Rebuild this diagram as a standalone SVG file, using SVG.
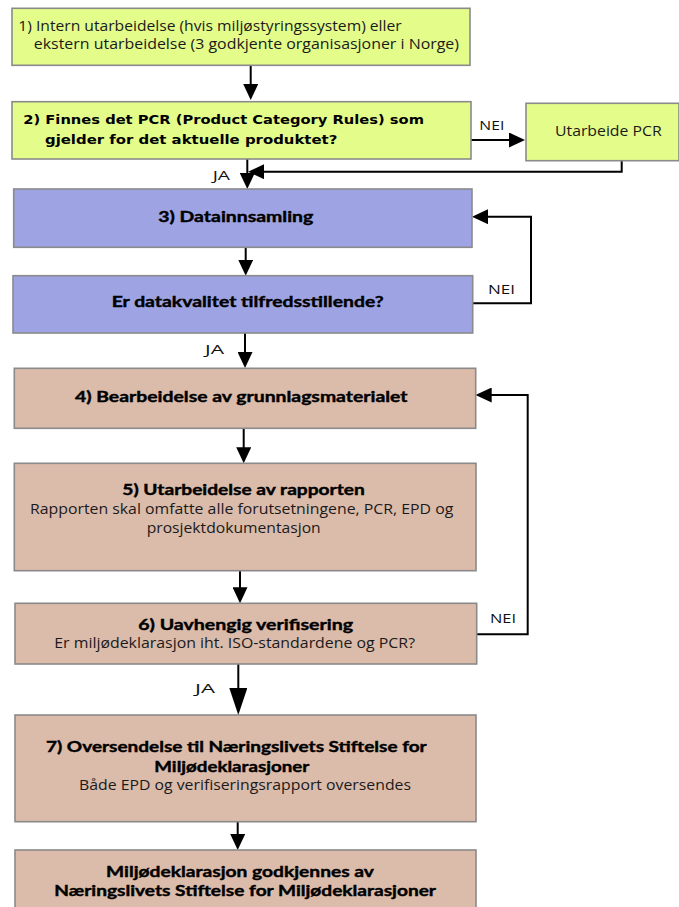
<svg xmlns="http://www.w3.org/2000/svg" width="679" height="907" viewBox="0 0 679 907">
  <defs>
    <style>
      .box { stroke: #8a8a8a; stroke-width: 1.6; }
      .green { fill: #e4fc8a; }
      .blue { fill: #9ea3e3; }
      .tan { fill: #dbbbaa; }
      .t { font-family: "Open Sans", "Liberation Sans", sans-serif; font-size: 14px; fill: #1a1a1a; }
      .b { font-family: Lato, "Liberation Sans", sans-serif; font-weight: bold; font-size: 15px; fill: #000; stroke: #000; stroke-width: 0.4; }
      .bv { font-family: "DejaVu Sans", Verdana, sans-serif; font-weight: bold; font-size: 13px; fill: #000; }
      .lbl { font-family: "Open Sans", "Liberation Sans", sans-serif; font-size: 13px; fill: #111; }
      .conn { fill: none; stroke: #000; stroke-width: 2; }
    </style>
    <marker id="arrow" markerUnits="userSpaceOnUse" markerWidth="16" markerHeight="15" refX="12" refY="7.5" orient="auto">
      <path d="M0,0 L16,7.5 L0,15 z" fill="#000"/>
    </marker>
    <marker id="arrowBig" markerUnits="userSpaceOnUse" markerWidth="27" markerHeight="18" refX="23" refY="9" orient="auto">
      <path d="M0,0 L27,9 L0,18 z" fill="#000"/>
    </marker>
  </defs>

  <rect width="679" height="907" fill="#fff"/>

  <!-- connectors -->
  <g id="connectors">
    <path class="conn" d="M250.7,65 V96" marker-end="url(#arrow)"/>
    <path class="conn" d="M471,140 H521" marker-end="url(#arrow)"/>
    <path class="conn" d="M621.7,160.7 V171.7 H252" marker-end="url(#arrow)"/>
    <path class="conn" d="M247.3,159 V185" marker-end="url(#arrow)"/>
    <path class="conn" d="M245.7,247.3 V271.7" marker-end="url(#arrow)"/>
    <path class="conn" d="M472.7,303.3 H531 V216.7 H476" marker-end="url(#arrow)"/>
    <path class="conn" d="M245,333 V364" marker-end="url(#arrow)"/>
    <path class="conn" d="M243.7,428.3 V459.3" marker-end="url(#arrow)"/>
    <path class="conn" d="M240,570.7 V599.3" marker-end="url(#arrow)"/>
    <path class="conn" d="M476.7,634.3 H527.7 V395 H479.7" marker-end="url(#arrow)"/>
    <path class="conn" d="M238.3,664 V711" marker-end="url(#arrowBig)"/>
    <path class="conn" d="M237.7,821.7 V846" marker-end="url(#arrow)"/>

    <text class="lbl" x="479.3" y="130" textLength="25" lengthAdjust="spacingAndGlyphs">NEI</text>
    <text class="lbl" x="212.7" y="180" textLength="17.3" lengthAdjust="spacingAndGlyphs">JA</text>
    <text class="lbl" x="488" y="294" textLength="27" lengthAdjust="spacingAndGlyphs">NEI</text>
    <text class="lbl" x="205" y="354.3" textLength="19" lengthAdjust="spacingAndGlyphs">JA</text>
    <text class="lbl" x="490" y="623" textLength="26" lengthAdjust="spacingAndGlyphs">NEI</text>
    <text class="lbl" x="195" y="692.7" textLength="20" lengthAdjust="spacingAndGlyphs">JA</text>
  </g>

  <g id="step1">
    <rect class="box green" x="12" y="8.3" width="458" height="57"/>
    <text class="t" x="18.3" y="30.7" textLength="383.4" lengthAdjust="spacingAndGlyphs">1) Intern utarbeidelse (hvis miljøstyringssystem) eller</text>
    <text class="t" x="33.8" y="49.3" textLength="425.2" lengthAdjust="spacingAndGlyphs">ekstern utarbeidelse (3 godkjente organisasjoner i Norge)</text>
  </g>

  <g id="step2">
    <rect class="box green" x="12" y="101.7" width="459" height="57.3"/>
    <text class="bv" x="23.3" y="124" textLength="400.7" lengthAdjust="spacingAndGlyphs">2) Finnes det PCR (Product Category Rules) som</text>
    <text class="bv" x="45" y="144" textLength="292.3" lengthAdjust="spacingAndGlyphs">gjelder for det aktuelle produktet?</text>
  </g>

  <g id="pcr">
    <rect class="box green" x="526" y="103.3" width="153" height="57.4"/>
    <text class="t" x="555" y="135.7" style="font-size:15px" textLength="106.7" lengthAdjust="spacingAndGlyphs">Utarbeide PCR</text>
  </g>

  <g id="step3">
    <rect class="box blue" x="13.7" y="189" width="458.3" height="58.3"/>
    <text class="b" x="158.3" y="222.3" textLength="155" lengthAdjust="spacingAndGlyphs">3) Datainnsamling</text>
  </g>

  <g id="quality">
    <rect class="box blue" x="13" y="275.7" width="459.7" height="57.3"/>
    <text class="b" x="111.7" y="306.7" textLength="272" lengthAdjust="spacingAndGlyphs">Er datakvalitet tilfredsstillende?</text>
  </g>

  <g id="step4">
    <rect class="box tan" x="14.3" y="368.3" width="461.4" height="60"/>
    <text class="b" x="75" y="402.3" textLength="332.5" lengthAdjust="spacingAndGlyphs">4) Bearbeidelse av grunnlagsmaterialet</text>
  </g>

  <g id="step5">
    <rect class="box tan" x="14.3" y="463.3" width="461.7" height="107.4"/>
    <text class="b" x="122.3" y="495" textLength="242.5" lengthAdjust="spacingAndGlyphs">5) Utarbeidelse av rapporten</text>
    <text class="t" x="30" y="514.3" textLength="423.3" lengthAdjust="spacingAndGlyphs">Rapporten skal omfatte alle forutsetningene, PCR, EPD og</text>
    <text class="t" x="146.7" y="533.3" textLength="174" lengthAdjust="spacingAndGlyphs">prosjektdokumentasjon</text>
  </g>

  <g id="step6">
    <rect class="box tan" x="15" y="603.3" width="461.7" height="60.7"/>
    <text class="b" x="138.3" y="630" textLength="214.7" lengthAdjust="spacingAndGlyphs">6) Uavhengig verifisering</text>
    <text class="t" x="54.3" y="648.3" textLength="360.7" lengthAdjust="spacingAndGlyphs">Er miljødeklarasjon iht. ISO-standardene og PCR?</text>
  </g>

  <g id="step7">
    <rect class="box tan" x="15" y="715" width="461" height="106.7"/>
    <text class="b" x="46" y="751.7" textLength="380.7" lengthAdjust="spacingAndGlyphs">7) Oversendelse til Næringslivets Stiftelse for</text>
    <text class="b" x="154.3" y="771.7" textLength="155" lengthAdjust="spacingAndGlyphs">Miljødeklarasjoner</text>
    <text class="t" x="79" y="790" textLength="332" lengthAdjust="spacingAndGlyphs">Både EPD og verifiseringsrapport oversendes</text>
  </g>

  <g id="approval">
    <rect class="box tan" x="15" y="850" width="461" height="70"/>
    <text class="b" x="106" y="877.3" textLength="268" lengthAdjust="spacingAndGlyphs">Miljødeklarasjon godkjennes av</text>
    <text class="b" x="54.3" y="895.7" textLength="381.7" lengthAdjust="spacingAndGlyphs">Næringslivets Stiftelse for Miljødeklarasjoner</text>
  </g>
</svg>
